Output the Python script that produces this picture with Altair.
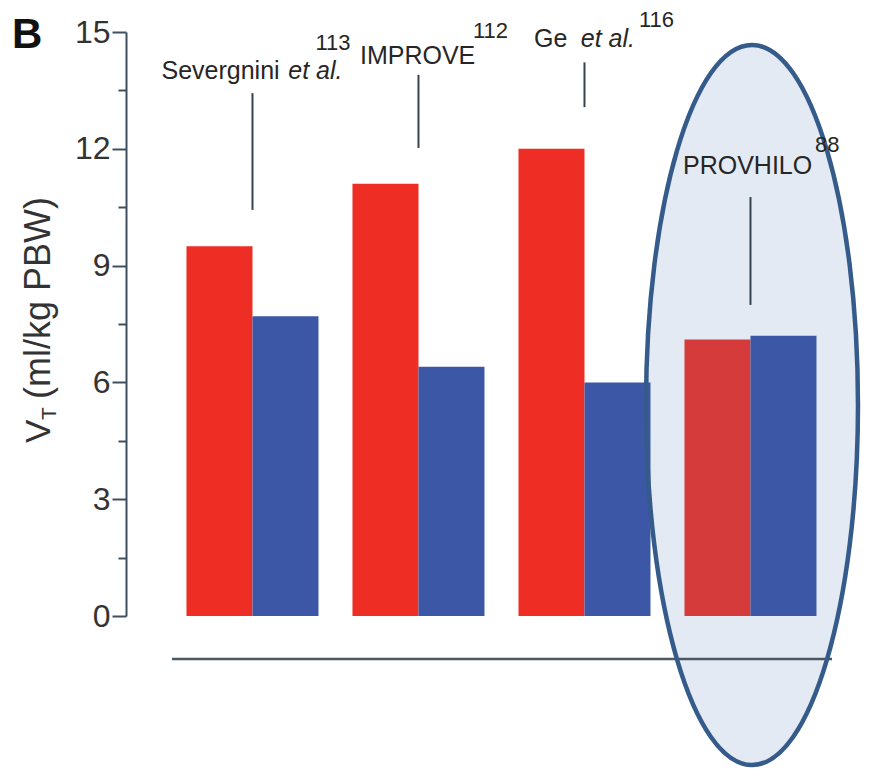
import altair as alt
import pandas as pd

FONT = "Liberation Sans, Arial, Helvetica, sans-serif"

# ---- data ----
studies = ["Severgnini", "IMPROVE", "Ge", "PROVHILO"]
groups = ["Conventional", "Protective"]
conventional_vt = [9.5, 11.1, 12.0, 7.1]
protective_vt = [7.7, 6.4, 6.0, 7.2]

y_ticks = [0, 1.5, 3, 4.5, 6, 7.5, 9, 10.5, 12, 13.5, 15]

# study labels (text, study, baseline in data units, pixel dx from group centre, align, style, size)
label_text = ["Severgnini", "et al.", "113", "IMPROVE", "112", "Ge", "et al.", "116", "PROVHILO", "88"]
label_study = ["Severgnini", "Severgnini", "Severgnini", "IMPROVE", "IMPROVE", "Ge", "Ge", "Ge", "PROVHILO", "PROVHILO"]
label_y = [13.78, 13.78, 14.53, 14.19, 14.84, 14.62, 14.62, 15.14, 11.35, 11.93]
label_dx = [-91, 90, 63, -58.5, 54.5, -50.5, 50.5, 54.5, -67.5, 64.5]
label_align = ["left", "right", "left", "left", "left", "left", "right", "left", "left", "left"]
label_style = ["normal", "italic", "normal", "normal", "normal", "normal", "italic", "normal", "normal", "normal"]
label_size = [25, 25, 22, 25, 22, 25, 25, 22, 25, 22]

# leader lines (data units)
leader_top = [13.43, 13.9, 14.22, 10.76]
leader_bottom = [10.43, 12.02, 13.07, 7.99]

RED = "#ee2d24"
RED_HL = "#d63b3b"
BLUE = "#3d57a7"
INK = "#262626"
AXIS = "#3f4f5f"

# ---- tables ----
rows = []
for s, c, p in zip(studies, conventional_vt, protective_vt):
    rows.append({"study": s, "group": "Conventional", "vt": c,
                 "shade": "Conventional (highlighted)" if s == "PROVHILO" else "Conventional"})
    rows.append({"study": s, "group": "Protective", "vt": p, "shade": "Protective"})
bars_df = pd.DataFrame(rows)

leaders_df = pd.DataFrame({"study": studies, "top": leader_top, "bottom": leader_bottom})
one = pd.DataFrame({"k": [0]})

W, H = 720, 584

y_axis = alt.Axis(values=y_ticks,
                  labelExpr="datum.value % 3 === 0 ? datum.label : ''",
                  labelOverlap=False,
                  labelFontSize=32, labelFont=FONT, labelColor="#333333",
                  labelPadding=2,
                  tickSize={"condition": {"test": "datum.value % 3 === 0", "value": 14}, "value": 8},
                  tickWidth=2, tickColor=AXIS,
                  domainWidth=2, domainColor=AXIS,
                  grid=False, title=None)
y_scale = alt.Scale(domain=[0, 15], nice=False, zero=True)
x_enc = alt.X("study:N", sort=studies, axis=None, title=None,
              scale=alt.Scale(paddingInner=0.2048, paddingOuter=0.2711, align=0.672))

bars = alt.Chart(bars_df).mark_bar(opacity=1).encode(
    x=x_enc,
    xOffset=alt.XOffset("group:N", sort=groups,
                        scale=alt.Scale(paddingInner=0, paddingOuter=0)),
    y=alt.Y("vt:Q", title=None, scale=y_scale, axis=y_axis),
    color=alt.Color("shade:N", legend=None,
                    scale=alt.Scale(domain=["Conventional", "Protective", "Conventional (highlighted)"],
                                    range=[RED, BLUE, RED_HL])),
)

ELLIPSE = "M0,-1 A0.2944,1 0 1,1 0,1 A0.2944,1 0 1,1 0,-1 Z"
ell_size = (2 * 360) ** 2
ellipse_fill = alt.Chart(one).mark_point(shape=ELLIPSE, size=ell_size, filled=True,
                                         fill="#e3eaf4", opacity=1, strokeWidth=0).encode(
    x=alt.value(626), y=alt.value(373))
ellipse_line = alt.Chart(one).mark_point(shape=ELLIPSE, size=ell_size, filled=False,
                                         stroke="#355b8b", strokeWidth=4.5, opacity=1).encode(
    x=alt.value(626), y=alt.value(373))

baseline_rule = alt.Chart(one).mark_rule(color="#4b5866", strokeWidth=2.5).encode(
    x=alt.value(46), x2=alt.value(706), y=alt.value(627))

leaders = alt.Chart(leaders_df).mark_rule(color="#34434f", strokeWidth=2).encode(
    x=alt.X("study:N", sort=studies, axis=None, title=None),
    y=alt.Y("top:Q", title=None, scale=y_scale, axis=y_axis),
    y2="bottom:Q",
)

layers = [ellipse_fill, baseline_rule, bars, ellipse_line, leaders]

for t, s, yv, dx, al, st, fs in zip(label_text, label_study, label_y, label_dx,
                                     label_align, label_style, label_size):
    df = pd.DataFrame({"study": [s], "y": [yv], "text": [t]})
    layers.append(alt.Chart(df).mark_text(align=al, baseline="alphabetic", dx=dx,
                                          fontSize=fs, fontStyle=st, font=FONT, color=INK).encode(
        x=alt.X("study:N", sort=studies, axis=None, title=None),
        y=alt.Y("y:Q", title=None, scale=y_scale, axis=y_axis),
        text="text:N"))

# y axis title: V with subscript T
title_parts = ["V", "T", "(ml/kg PBW)"]
title_x = [-76, -70, -76]
title_y = [411, 388, 367]
title_size = [35, 21, 36]
for t, xv, yv, fs in zip(title_parts, title_x, title_y, title_size):
    layers.append(alt.Chart(pd.DataFrame({"text": [t]})).mark_text(
        align="left", baseline="alphabetic", angle=270, fontSize=fs, font=FONT, color="#333333").encode(
        x=alt.value(xv), y=alt.value(yv), text="text:N"))

panel = alt.Chart(pd.DataFrame({"text": ["B"]})).mark_text(
    align="left", baseline="alphabetic", fontSize=42, fontWeight="bold", font=FONT, color="#111111").encode(
    x=alt.value(-114), y=alt.value(16), text="text:N")
layers.append(panel)

chart = alt.layer(*layers).properties(
    width=W, height=H,
    padding={"left": 118, "top": 24, "right": 15, "bottom": 152},
    autosize=alt.AutoSizeParams(type="none"),
).configure_view(stroke=None)

chart.save("out.html", embed_options={"renderer": "svg", "actions": False})
